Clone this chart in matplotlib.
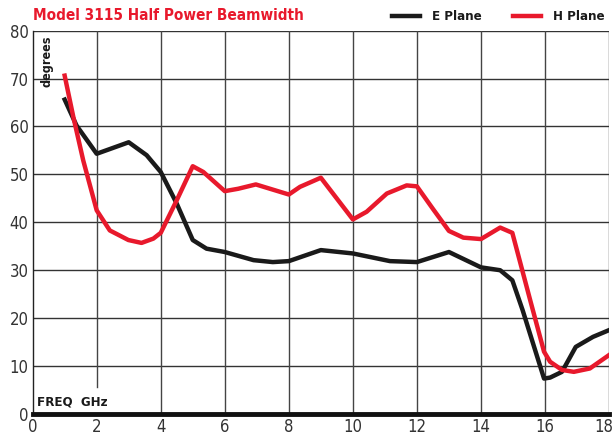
import matplotlib.pyplot as plt
from matplotlib import transforms

# values
e_freq = [1.0, 1.37, 2.0, 3.0, 3.56, 4.0, 4.5, 5.0, 5.43, 6.0, 6.9, 7.5, 8.0,
          9.0, 10.0, 11.16, 12.0, 13.0, 14.0, 14.6, 14.98, 15.3, 15.97, 16.16,
          16.53, 16.96, 17.5, 18.0]
e_plane = [65.6, 60.2, 54.3, 56.7, 54.0, 50.5, 43.9, 36.3, 34.5, 33.8, 32.1,
           31.7, 31.9, 34.2, 33.5, 31.9, 31.7, 33.8, 30.6, 30.0, 27.9, 21.7,
           7.4, 7.6, 8.8, 14.0, 16.1, 17.5]

h_freq = [1.0, 1.27, 1.58, 2.0, 2.41, 2.99, 3.4, 3.77, 4.0, 4.5, 5.0, 5.33,
          6.0, 6.42, 6.97, 8.0, 8.35, 9.0, 10.0, 10.43, 11.06, 11.68, 12.0,
          12.5, 13.0, 13.45, 14.0, 14.6, 14.98, 15.54, 15.97, 16.16, 16.53,
          16.9, 17.4, 18.0]
h_plane = [70.6, 62.0, 52.9, 42.5, 38.3, 36.3, 35.7, 36.6, 37.8, 44.6, 51.7,
           50.5, 46.5, 47.0, 47.9, 45.8, 47.4, 49.3, 40.6, 42.2, 46.0, 47.7,
           47.5, 42.8, 38.2, 36.8, 36.5, 38.9, 37.8, 23.7, 13.0, 10.9, 9.2,
           8.8, 9.5, 12.3]

x_ticks = list(range(0, 19, 2))
y_ticks = list(range(0, 81, 10))

red = '#e8192c'
black = '#1a1a1a'
plt.rcParams['font.family'] = ['DejaVu Sans']
plt.rcParams['font.stretch'] = 'condensed'

fig = plt.figure(figsize=(6.16, 4.37), dpi=100)
ax = fig.add_axes([0.053, 0.0526, 0.9357, 0.8774])
ax.set_xlim(0, 18)
ax.set_ylim(0, 80)

# grid, x=2 line stops short to leave room for the axis label
for y in y_ticks[1:]:
    ax.axhline(y, color='#333333', lw=1.0, zorder=1)
for x in x_ticks[1:]:
    ymin = 5.6 / 80 if x == 2 else 0
    ax.axvline(x, ymin=ymin, color='#444444', lw=1.0, zorder=1)

ax.plot(e_freq, e_plane, color=black, lw=3.2, label='E Plane', zorder=3,
        solid_joinstyle='round')
ax.plot(h_freq, h_plane, color=red, lw=3.2, label='H Plane', zorder=4,
        solid_joinstyle='round')

for side in ['top', 'right']:
    ax.spines[side].set_visible(False)
ax.spines['left'].set_linewidth(1.0)
ax.spines['left'].set_color('#222222')
ax.spines['bottom'].set_linewidth(3.5)
ax.spines['bottom'].set_color('#111111')

ax.set_xticks(x_ticks)
ax.set_yticks(y_ticks)
ax.tick_params(length=0, labelsize=12, colors='#333333', pad=3)

# nudge the last x label so it stays inside the figure
last = ax.get_xticklabels()[-1]
last.set_transform(last.get_transform() +
                   transforms.ScaledTranslation(-5 / 100, 0, fig.dpi_scale_trans))

ax.text(0.25, 79, 'degrees', rotation=90, ha='left', va='top',
        fontsize=9, fontweight='bold', color=black)
ax.text(0.15, 1.2, 'FREQ  GHz', ha='left', va='bottom',
        fontsize=9.5, fontweight='bold', color=black)

fig.text(0.053, 0.965, 'Model 3115 Half Power Beamwidth', ha='left',
         va='center', fontsize=11, fontweight='bold', color=red)

leg = ax.legend(loc='lower right', bbox_to_anchor=(1.005, 1.0), ncol=2,
                frameon=False, handlelength=2.1, handletextpad=0.9,
                columnspacing=2.4, borderaxespad=0.15,
                prop={'weight': 'bold', 'size': 9.5})
for t in leg.get_texts():
    t.set_color(black)

fig.savefig('out.png', dpi=100)
